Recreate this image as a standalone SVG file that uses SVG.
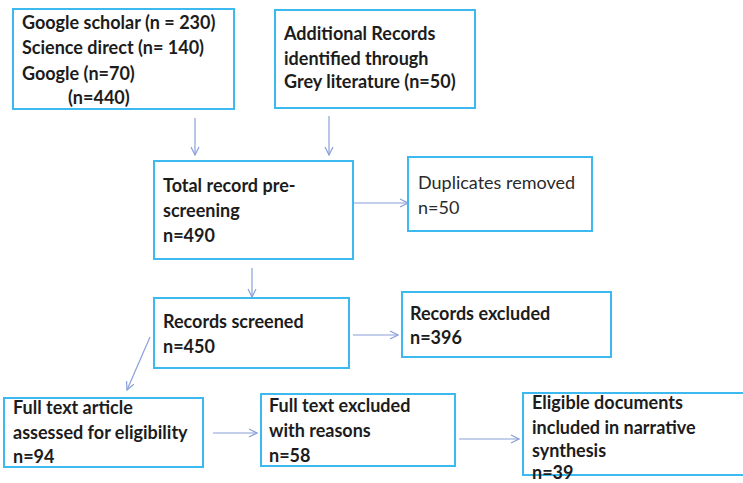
<svg xmlns="http://www.w3.org/2000/svg" width="743" height="483" viewBox="0 0 743 483">
<defs>
<style>
.box{fill:#ffffff;stroke:#3cb9ee;stroke-width:2}
.t{font-family:Lato,"Liberation Sans",sans-serif;font-weight:700;font-size:18px;fill:#1c1c1c}
.n{font-family:Lato,"Liberation Sans",sans-serif;font-weight:400;font-size:18px;fill:#2a2a2a}
.c{stroke:#8aa0da;stroke-width:1.2;fill:none}
</style>
<marker id="ah" viewBox="0 0 10 10" refX="9" refY="5" markerWidth="10" markerHeight="10" markerUnits="userSpaceOnUse" orient="auto">
<path d="M1,1 L9,5 L1,9" fill="none" stroke="#8aa0da" stroke-width="1.2"/>
</marker>
</defs>
<rect width="743" height="483" fill="#ffffff"/>
<g id="connectors">
<line class="c" x1="195" y1="118" x2="195" y2="155" marker-end="url(#ah)"/>
<line class="c" x1="329" y1="116" x2="329" y2="155" marker-end="url(#ah)"/>
<line class="c" x1="353" y1="203" x2="408" y2="203" marker-end="url(#ah)"/>
<line class="c" x1="252" y1="268" x2="252" y2="297" marker-end="url(#ah)"/>
<line class="c" x1="353" y1="335" x2="398" y2="335" marker-end="url(#ah)"/>
<line class="c" x1="150" y1="337" x2="127" y2="390" marker-end="url(#ah)"/>
<line class="c" x1="213" y1="433" x2="257" y2="433" marker-end="url(#ah)"/>
<line class="c" x1="459" y1="439" x2="519" y2="439" marker-end="url(#ah)"/>
</g>
<g id="sources">
<rect class="box" x="13" y="9" width="221" height="100"/>
<text class="t" x="22" y="29">Google scholar (n = 230)</text>
<text class="t" x="22" y="54">Science direct (n= 140)</text>
<text class="t" x="22" y="80">Google (n=70)</text>
<text class="t" x="68" y="104">(n=440)</text>
</g>
<g id="grey">
<rect class="box" x="275" y="10" width="200" height="98"/>
<text class="t" x="284" y="40">Additional Records</text>
<text class="t" x="284" y="65">identified through</text>
<text class="t" x="284" y="88">Grey literature (n=50)</text>
</g>
<g id="total">
<rect class="box" x="154" y="161" width="199" height="98"/>
<text class="t" x="163" y="192">Total record pre-</text>
<text class="t" x="163" y="217">screening</text>
<text class="t" x="163" y="242">n=490</text>
</g>
<g id="duplicates">
<rect class="box" x="408" y="157" width="184" height="74"/>
<text class="n" x="418" y="189">Duplicates removed</text>
<text class="n" x="418" y="214">n=50</text>
</g>
<g id="screened">
<rect class="box" x="154" y="298" width="195" height="70"/>
<text class="t" x="163" y="328">Records screened</text>
<text class="t" x="163" y="353">n=450</text>
</g>
<g id="excluded">
<rect class="box" x="402" y="292" width="209" height="65"/>
<text class="t" x="410" y="320">Records excluded</text>
<text class="t" x="410" y="344">n=396</text>
</g>
<g id="fulltext">
<rect class="box" x="4" y="398" width="199" height="69"/>
<text class="t" x="13" y="414">Full text article</text>
<text class="t" x="13" y="439">assessed for eligibility</text>
<text class="t" x="13" y="463">n=94</text>
</g>
<g id="ftexcluded">
<rect class="box" x="261" y="394" width="194" height="72"/>
<text class="t" x="269" y="412">Full text excluded</text>
<text class="t" x="269" y="437">with reasons</text>
<text class="t" x="269" y="462">n=58</text>
</g>
<g id="eligible">
<rect class="box" x="523" y="393" width="240" height="82"/>
<text class="t" x="532" y="409">Eligible documents</text>
<text class="t" x="532" y="434">included in narrative</text>
<text class="t" x="532" y="457">synthesis</text>
<text class="t" x="532" y="479">n=39</text>
</g>
</svg>
